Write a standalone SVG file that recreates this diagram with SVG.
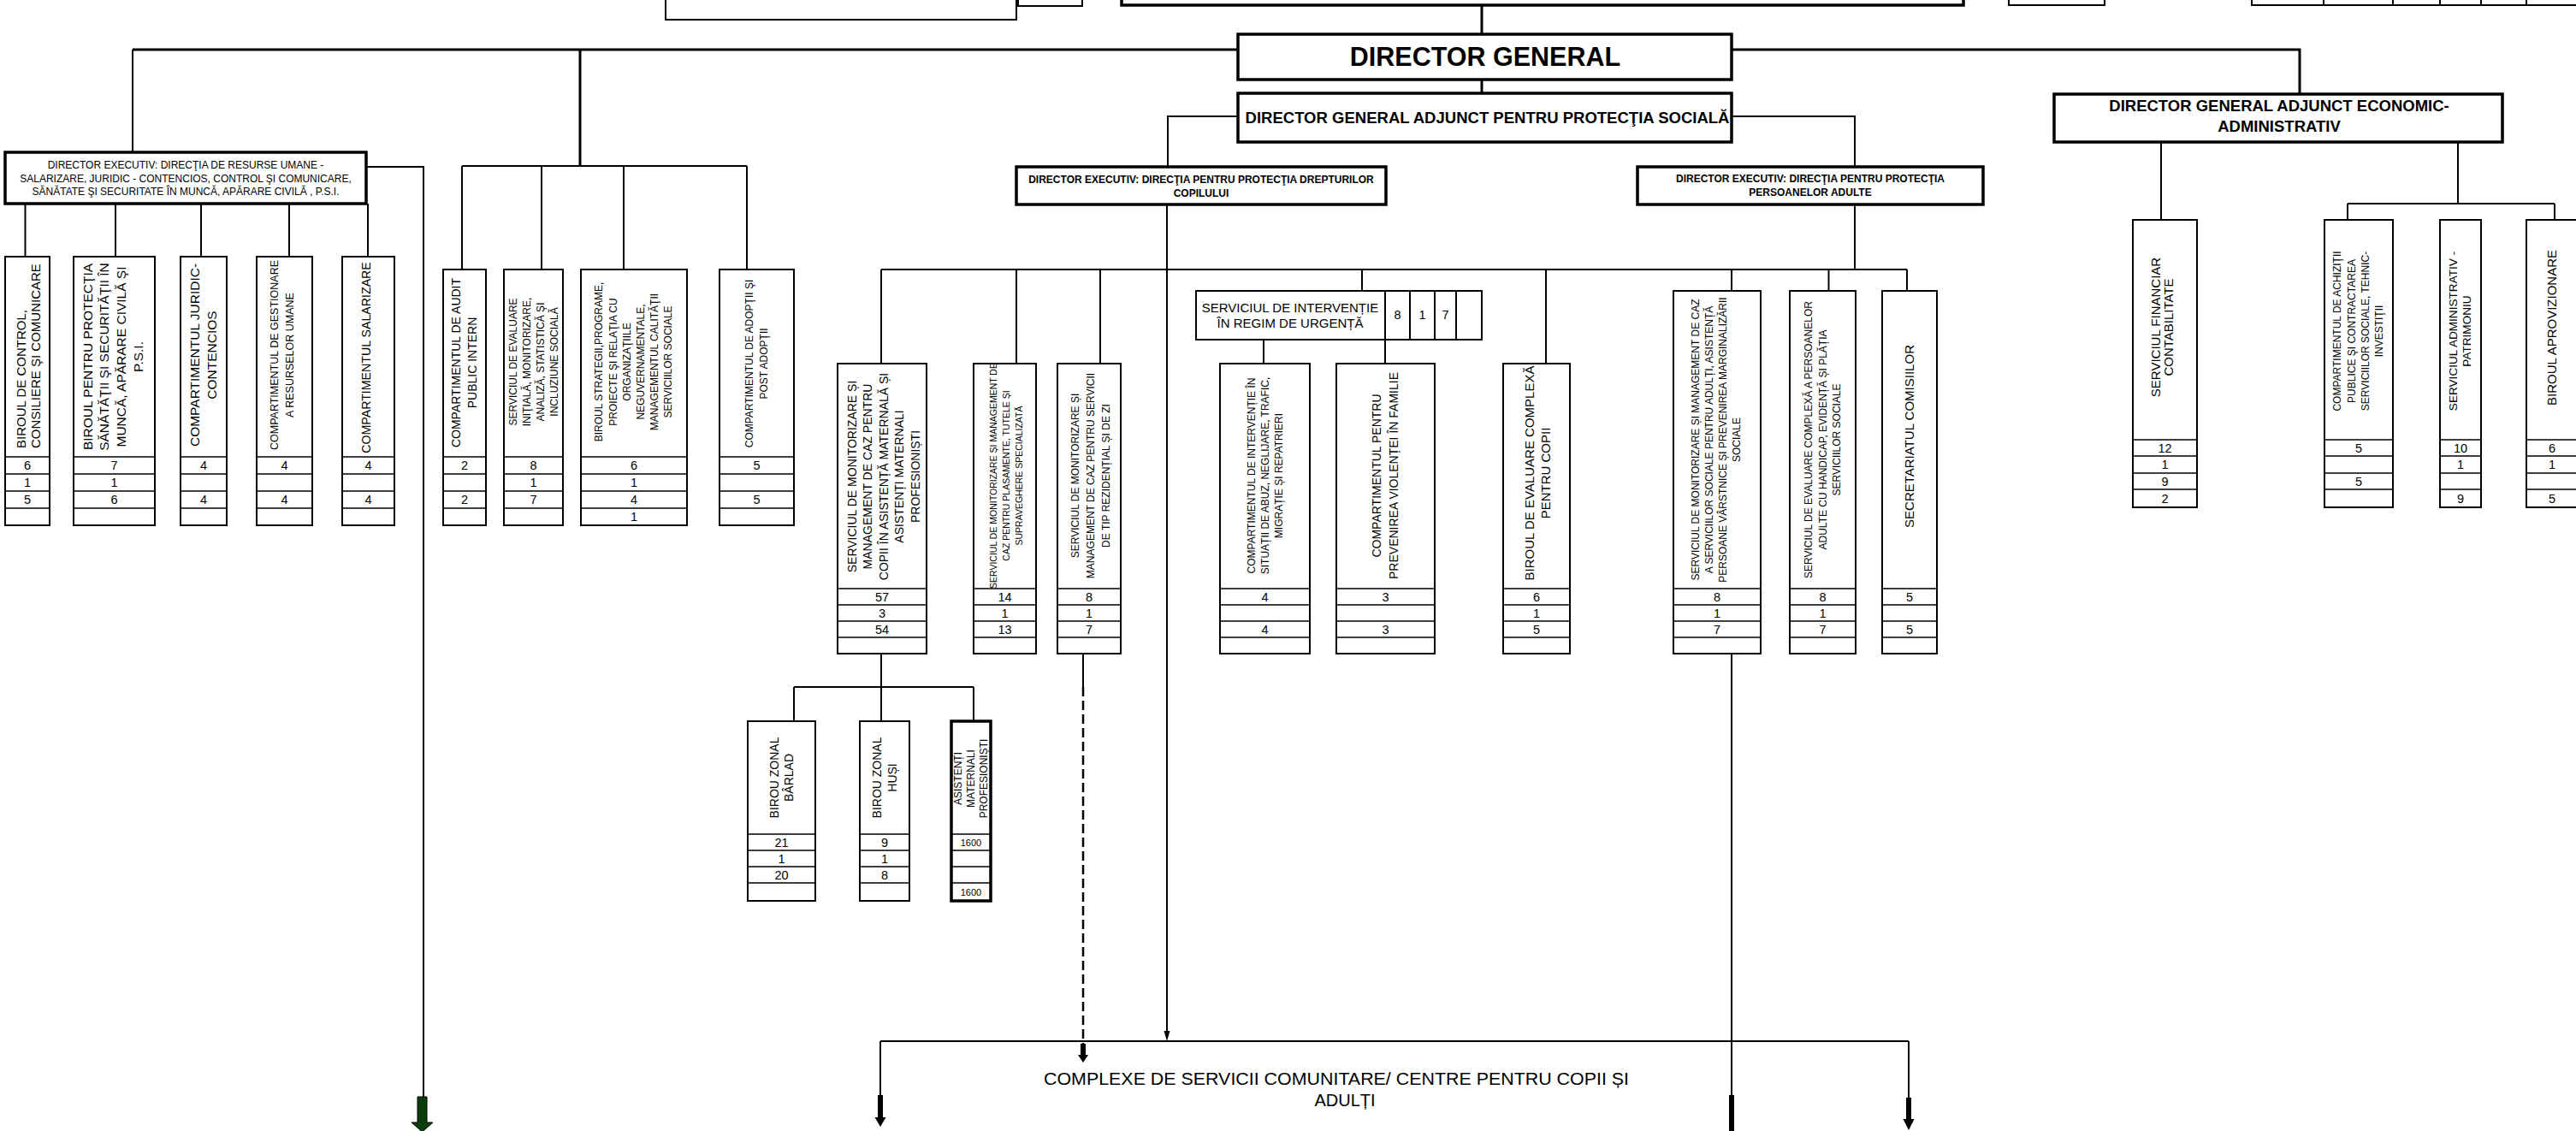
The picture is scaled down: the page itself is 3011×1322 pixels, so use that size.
<svg xmlns="http://www.w3.org/2000/svg" width="3011" height="1322" viewBox="0 0 3011 1322" xml:space="preserve">
<style>
.box{fill:#fff;stroke:#000;stroke-width:2}
.hbox{fill:#fff;stroke:#000;stroke-width:3.5}
.row{fill:none;stroke:#000;stroke-width:1.6}
.c{fill:none;stroke:#000;stroke-width:2}
.ct{fill:none;stroke:#000;stroke-width:3}
.dash{fill:none;stroke:#000;stroke-width:2.5;stroke-dasharray:11 5}
text{font-family:"Liberation Sans",Arial,sans-serif;fill:#000}
.n{font-size:14.5px;text-anchor:middle}
.m{text-anchor:middle}
.b{font-weight:bold}
</style>
<defs><clipPath id="clipB2"><rect x="87" y="301" width="93" height="233"/></clipPath><clipPath id="clipM2"><rect x="1139" y="426" width="71" height="262"/></clipPath><clipPath id="clipAMP"><rect x="1113" y="844" width="44" height="131"/></clipPath></defs>
<rect x="0" y="0" width="3011" height="1322" fill="#fff"/>
<g id="connectors">
<path class="ct" d="M1732 6V40M155 58H1447M2024 58H2688V110M678 58V194M1732 93V109"/>
<path class="c" d="M155 58V178"/>
<path class="c" d="M428 195H495V1282"/>
<path class="c" d="M29.5 238V300M135 238V300M235 238V300M338 238V300M430 238V300"/>
<path class="c" d="M540 194H873M540 194V315M633 194V315M729 194V315M873 194V315"/>
<path class="c" d="M1447 136H1365V195M2024 136H2168V195M2168 239V315"/>
<path class="c" d="M1364 239V1209"/>
<polygon points="1360.5,1205 1367.5,1205 1364,1217" fill="#000"/>
<path class="c" d="M1030 315H2229M1030 315V425M1188 315V425M1286 315V425M1592 315V340M1807 315V425M2024 315V340M2137.5 315V340M2229 315V340"/>
<path class="c" d="M1477 397V425M1619 397V425"/>
<path class="c" d="M1030 764V803M928 803H1138M928 803V843M1030 803V843M1138 803V843"/>
<path class="c" d="M1266 764V803"/>
<path class="dash" d="M1266 803V1220"/>
<polygon points="1263,1220 1269,1220 1269,1233 1272,1233 1266,1242 1260,1233 1263,1233" fill="#000"/>
<path class="c" d="M1029 1217H2231M1029 1217V1280M2231 1217V1283M2024 764V1280"/>
<polygon points="1026,1280 1032,1280 1032,1306 1035.5,1306 1029,1317 1022.5,1306 1026,1306" fill="#000"/>
<polygon points="2228,1283 2234,1283 2234,1308 2237.5,1308 2231,1321 2224.5,1308 2228,1308" fill="#000"/>
<rect x="2021" y="1280" width="6" height="42" fill="#000"/>
<polygon points="488,1282 499,1282 499,1312 506,1312 493.5,1323 481,1312 488,1312" fill="#0b3d0b" stroke="#000" stroke-width="1"/>
<path class="c" d="M2526 166V257M2873 166V238M2744 238H2986M2744 238V257M2986 238V257"/>
</g>
<g id="top-left"><rect class="box" x="778" y="-40" width="410" height="63" stroke-width="2.5"/></g>
<g id="top-small"><rect class="box" x="1190" y="-40" width="75" height="47"/></g>
<g id="top-main"><rect class="hbox" x="1311" y="-40" width="984" height="46"/></g>
<g id="top-r1"><rect class="box" x="2348" y="-40" width="112" height="46"/></g>
<g id="top-r2"><rect class="box" x="2632" y="-40" width="400" height="46"/><path class="c" d="M2716 -40V6M2797 -40V6M2852 -40V6M2900 -40V6M2953 -40V6"/></g>
<g id="director-general"><rect class="hbox" x="1447" y="40" width="577" height="53"/><text class="b m" x="1736" y="76.5" font-size="30.5">DIRECTOR GENERAL</text></g>
<g id="dga-ps"><rect class="hbox" x="1447" y="109" width="577" height="57"/><text class="b m" x="1738.5" y="143.6" font-size="18.4" textLength="566" lengthAdjust="spacingAndGlyphs">DIRECTOR GENERAL ADJUNCT PENTRU PROTECŢIA SOCIALĂ</text></g>
<g id="dga-ea"><rect class="hbox" x="2401" y="110" width="524" height="56"/><text class="b m" font-size="18.5"><tspan x="2664" y="129.7">DIRECTOR GENERAL ADJUNCT ECONOMIC-</tspan><tspan x="2664" y="153.7">ADMINISTRATIV</tspan></text></g>
<g id="de-hr"><rect class="hbox" x="6" y="178" width="422" height="60"/><text class="m" font-size="12"><tspan x="217" y="197.3">DIRECTOR  EXECUTIV: DIRECŢIA DE RESURSE UMANE -</tspan><tspan x="217" y="212.8">SALARIZARE, JURIDIC - CONTENCIOS, CONTROL ŞI COMUNICARE,</tspan><tspan x="217" y="228.3">SĂNĂTATE ŞI SECURITATE ÎN MUNCĂ, APĂRARE CIVILĂ , P.S.I.</tspan></text></g>
<g id="de-dpc"><rect class="hbox" x="1188" y="195" width="432" height="44"/><text class="b m" font-size="12"><tspan x="1404" y="214.3">DIRECTOR EXECUTIV:  DIRECŢIA PENTRU PROTECŢIA DREPTURILOR</tspan><tspan x="1404" y="230.3">COPILULUI</tspan></text></g>
<g id="de-ppa"><rect class="hbox" x="1914" y="195" width="404" height="44"/><text class="b m" font-size="12"><tspan x="2116" y="213.3">DIRECTOR EXECUTIV: DIRECŢIA PENTRU PROTECŢIA</tspan><tspan x="2116" y="229.3">PERSOANELOR ADULTE</tspan></text></g>
<g id="birou-control"><rect class="box" x="6" y="300" width="52" height="314"/><path class="row" d="M6 534H58M6 554H58M6 574H58M6 594H58"/><text font-size="15" transform="translate(0,524) rotate(-90)"><tspan x="0" y="30.4">BIROUL DE CONTROL,</tspan><tspan x="0" y="47.4">CONSILIERE ŞI COMUNICARE</tspan></text><text class="n" x="32" y="549.2">6</text><text class="n" x="32" y="569.2">1</text><text class="n" x="32" y="589.2">5</text></g>
<g id="birou-ssm"><rect class="box" x="86" y="300" width="95" height="314"/><path class="row" d="M86 534H181M86 554H181M86 574H181M86 594H181"/><g clip-path="url(#clipB2)"><text class="m" font-size="15.5" transform="translate(0,417) rotate(-90)"><tspan x="0" y="107.5">BIROUL PENTRU PROTECŢIA</tspan><tspan x="0" y="127.2">SĂNĂTĂŢII ŞI SECURITĂŢII ÎN</tspan><tspan x="0" y="146.9">MUNCĂ, APĂRARE CIVILĂ ŞI</tspan><tspan x="0" y="166.6">P.S.I.</tspan></text></g><text class="n" x="133.5" y="549.2">7</text><text class="n" x="133.5" y="569.2">1</text><text class="n" x="133.5" y="589.2">6</text></g>
<g id="comp-juridic"><rect class="box" x="211" y="300" width="54" height="314"/><path class="row" d="M211 534H265M211 554H265M211 574H265M211 594H265"/><text class="m" font-size="15.5" transform="translate(0,415) rotate(-90)"><tspan x="0" y="232.5">COMPARTIMENTUL JURIDIC-</tspan><tspan x="0" y="252.5">CONTENCIOS</tspan></text><text class="n" x="238" y="549.2">4</text><text class="n" x="238" y="589.2">4</text></g>
<g id="comp-resurse"><rect class="box" x="300" y="300" width="65" height="314"/><path class="row" d="M300 534H365M300 554H365M300 574H365M300 594H365"/><text class="m" font-size="12.5" transform="translate(0,415) rotate(-90)"><tspan x="0" y="324.5">COMPARTIMENTUL DE  GESTIONARE</tspan><tspan x="0" y="342.5">A RESURSELOR UMANE</tspan></text><text class="n" x="332.5" y="549.2">4</text><text class="n" x="332.5" y="589.2">4</text></g>
<g id="comp-salarizare"><rect class="box" x="400" y="300" width="61" height="314"/><path class="row" d="M400 534H461M400 554H461M400 574H461M400 594H461"/><text class="m" font-size="14.2" transform="translate(0,418) rotate(-90)"><tspan x="0" y="433">COMPARTIMENTUL SALARIZARE</tspan></text><text class="n" x="430.5" y="549.2">4</text><text class="n" x="430.5" y="589.2">4</text></g>
<g id="comp-audit"><rect class="box" x="518" y="315" width="50" height="299"/><path class="row" d="M518 534H568M518 554H568M518 574H568M518 594H568"/><text class="m" font-size="14" transform="translate(0,424) rotate(-90)"><tspan x="0" y="538">COMPARTIMENTUL  DE AUDIT</tspan><tspan x="0" y="557">PUBLIC INTERN</tspan></text><text class="n" x="543" y="549.2">2</text><text class="n" x="543" y="589.2">2</text></g>
<g id="serv-evaluare"><rect class="box" x="589" y="315" width="69" height="299"/><path class="row" d="M589 534H658M589 554H658M589 574H658M589 594H658"/><text class="m" font-size="12" transform="translate(0,423) rotate(-90)"><tspan x="0" y="604.3">SERVICIUL DE EVALUARE</tspan><tspan x="0" y="620.3">INIŢIALĂ, MONITORIZARE,</tspan><tspan x="0" y="636.3">ANALIZĂ, STATISTICĂ ŞI</tspan><tspan x="0" y="652.3">INCLUZIUNE SOCIALĂ</tspan></text><text class="n" x="623.5" y="549.2">8</text><text class="n" x="623.5" y="569.2">1</text><text class="n" x="623.5" y="589.2">7</text></g>
<g id="birou-strategii"><rect class="box" x="679" y="315" width="124" height="299"/><path class="row" d="M679 534H803M679 554H803M679 574H803M679 594H803"/><text class="m" font-size="12" transform="translate(0,423) rotate(-90)"><tspan x="0" y="704.3">BIROUL  STRATEGII,PROGRAME,</tspan><tspan x="0" y="720.5">PROIECTE ŞI RELAŢIA CU</tspan><tspan x="0" y="736.7">ORGANIZAŢIILE</tspan><tspan x="0" y="752.9">NEGUVERNAMENTALE,</tspan><tspan x="0" y="769.1">MANAGEMENTUL CALITĂŢII</tspan><tspan x="0" y="785.3">SERVICIILOR SOCIALE</tspan></text><text class="n" x="741" y="549.2">6</text><text class="n" x="741" y="569.2">1</text><text class="n" x="741" y="589.2">4</text><text class="n" x="741" y="609.2">1</text></g>
<g id="comp-adoptii"><rect class="box" x="841" y="315" width="87" height="299"/><path class="row" d="M841 534H928M841 554H928M841 574H928M841 594H928"/><text class="m" font-size="12" transform="translate(0,425) rotate(-90)"><tspan x="0" y="880.3">COMPARTIMENTUL  DE ADOPŢII ŞI</tspan><tspan x="0" y="897.3">POST ADOPŢII</tspan></text><text class="n" x="884.5" y="549.2">5</text><text class="n" x="884.5" y="589.2">5</text></g>
<g id="serv-amp"><rect class="box" x="979" y="425" width="104" height="339"/><path class="row" d="M979 688H1083M979 707H1083M979 726H1083M979 745H1083"/><text class="m" font-size="14" transform="translate(0,557) rotate(-90)"><tspan x="0" y="1000.7">SERVICIUL DE MONITORIZARE ȘI</tspan><tspan x="0" y="1019.2">MANAGEMENT DE CAZ PENTRU</tspan><tspan x="0" y="1037.7">COPII ÎN ASISTENȚĂ MATERNALĂ ȘI</tspan><tspan x="0" y="1056.2">ASISTENȚI MATERNALI</tspan><tspan x="0" y="1074.7">PROFESIONIȘTI</tspan></text><text class="n" x="1031" y="702.7">57</text><text class="n" x="1031" y="721.7">3</text><text class="n" x="1031" y="740.7">54</text></g>
<g id="serv-plasamente"><rect class="box" x="1138" y="425" width="73" height="339"/><path class="row" d="M1138 688H1211M1138 707H1211M1138 726H1211M1138 745H1211"/><g clip-path="url(#clipM2)"><text class="m" font-size="10.5" transform="translate(0,556) rotate(-90)"><tspan x="0" y="1164.8">SERVICIUL DE MONITORIZARE ȘI MANAGEMENT DE</tspan><tspan x="0" y="1180">CAZ PENTRU PLASAMENTE, TUTELE ȘI</tspan><tspan x="0" y="1195">SUPRAVEGHERE SPECIALIZATĂ</tspan></text></g><text class="n" x="1174.5" y="702.7">14</text><text class="n" x="1174.5" y="721.7">1</text><text class="n" x="1174.5" y="740.7">13</text></g>
<g id="serv-rezidential"><rect class="box" x="1236" y="425" width="74" height="339"/><path class="row" d="M1236 688H1310M1236 707H1310M1236 726H1310M1236 745H1310"/><text class="m" font-size="12" transform="translate(0,556) rotate(-90)"><tspan x="0" y="1261.3">SERVICIUL DE  MONITORIZARE ȘI</tspan><tspan x="0" y="1279">MANAGEMENT DE CAZ PENTRU SERVICII</tspan><tspan x="0" y="1296.8">DE TIP REZIDENȚIAL ȘI DE ZI</tspan></text><text class="n" x="1273" y="702.7">8</text><text class="n" x="1273" y="721.7">1</text><text class="n" x="1273" y="740.7">7</text></g>
<g id="serv-urgenta"><rect class="box" x="1398" y="340" width="334" height="57"/><path class="c" d="M1619 340V397M1648 340V397M1677 340V397M1702 340V397"/><text class="m" font-size="15"><tspan x="1508" y="365.4">SERVICIUL  DE INTERVENȚIE</tspan><tspan x="1508" y="382.7">ÎN REGIM DE URGENȚĂ</tspan></text><text class="n" x="1633.5" y="373">8</text><text class="n" x="1662.5" y="373">1</text><text class="n" x="1689.5" y="373">7</text></g>
<g id="comp-abuz"><rect class="box" x="1426" y="425" width="105" height="339"/><path class="row" d="M1426 688H1531M1426 707H1531M1426 726H1531M1426 745H1531"/><text class="m" font-size="12" transform="translate(0,556) rotate(-90)"><tspan x="0" y="1467.3">COMPARTIMENTUL  DE INTERVENȚIE ÎN</tspan><tspan x="0" y="1483.3">SITUAȚII DE ABUZ, NEGLIJARE, TRAFIC,</tspan><tspan x="0" y="1499.3">MIGRAȚIE ȘI REPATRIERI</tspan></text><text class="n" x="1478.5" y="702.7">4</text><text class="n" x="1478.5" y="740.7">4</text></g>
<g id="comp-violenta"><rect class="box" x="1562" y="425" width="115" height="339"/><path class="row" d="M1562 688H1677M1562 707H1677M1562 726H1677M1562 745H1677"/><text class="m" font-size="14" transform="translate(0,556) rotate(-90)"><tspan x="0" y="1614.3">COMPARTIMENTUL  PENTRU</tspan><tspan x="0" y="1634">PREVENIREA VIOLENȚEI ÎN FAMILIE</tspan></text><text class="n" x="1619.5" y="702.7">3</text><text class="n" x="1619.5" y="740.7">3</text></g>
<g id="birou-evaluare-copii"><rect class="box" x="1757" y="425" width="78" height="339"/><path class="row" d="M1757 688H1835M1757 707H1835M1757 726H1835M1757 745H1835"/><text class="m" font-size="15" transform="translate(0,553) rotate(-90)"><tspan x="0" y="1792.7">BIROUL DE EVALUARE COMPLEXĂ</tspan><tspan x="0" y="1812.4">PENTRU COPII</tspan></text><text class="n" x="1796" y="702.7">6</text><text class="n" x="1796" y="721.7">1</text><text class="n" x="1796" y="740.7">5</text></g>
<g id="serv-adulti"><rect class="box" x="1956" y="340" width="102" height="424"/><path class="row" d="M1956 688H2058M1956 707H2058M1956 726H2058M1956 745H2058"/><text class="m" font-size="12" transform="translate(0,514) rotate(-90)"><tspan x="0" y="1986.3">SERVICIUL  DE MONITORIZARE ȘI MANAGEMENT DE CAZ</tspan><tspan x="0" y="2002.3">A SERVICIILOR SOCIALE PENTRU ADULȚI, ASISTENȚĂ</tspan><tspan x="0" y="2018.3">PERSOANE VÂRSTNICE ȘI PREVENIREA MARGINALIZĂRII</tspan><tspan x="0" y="2034.3">SOCIALE</tspan></text><text class="n" x="2007" y="702.7">8</text><text class="n" x="2007" y="721.7">1</text><text class="n" x="2007" y="740.7">7</text></g>
<g id="serv-handicap"><rect class="box" x="2092" y="340" width="77" height="424"/><path class="row" d="M2092 688H2169M2092 707H2169M2092 726H2169M2092 745H2169"/><text class="m" font-size="12" transform="translate(0,514) rotate(-90)"><tspan x="0" y="2118">SERVICIUL  DE EVALUARE COMPLEXĂ A PERSOANELOR</tspan><tspan x="0" y="2134.7">ADULTE CU HANDICAP, EVIDENȚĂ ȘI PLĂȚIA</tspan><tspan x="0" y="2150.7">SERVICIILOR SOCIALE</tspan></text><text class="n" x="2130.5" y="702.7">8</text><text class="n" x="2130.5" y="721.7">1</text><text class="n" x="2130.5" y="740.7">7</text></g>
<g id="secretariat"><rect class="box" x="2200" y="340" width="64" height="424"/><path class="row" d="M2200 688H2264M2200 707H2264M2200 726H2264M2200 745H2264"/><text class="m" font-size="15" transform="translate(0,510) rotate(-90)"><tspan x="0" y="2236.8">SECRETARIATUL COMISIILOR</tspan></text><text class="n" x="2232" y="702.7">5</text><text class="n" x="2232" y="740.7">5</text></g>
<g id="serv-financiar"><rect class="box" x="2493" y="257" width="75" height="336"/><path class="row" d="M2493 514H2568M2493 533H2568M2493 553H2568M2493 572H2568"/><text class="m" font-size="15" transform="translate(0,382.5) rotate(-90)"><tspan x="0" y="2525.4">SERVICIUL FINANCIAR</tspan><tspan x="0" y="2540.4">CONTABILITATE</tspan></text><text class="n" x="2530.5" y="528.7">12</text><text class="n" x="2530.5" y="548.2">1</text><text class="n" x="2530.5" y="567.7">9</text><text class="n" x="2530.5" y="587.7">2</text></g>
<g id="comp-achizitii"><rect class="box" x="2717" y="257" width="80" height="336"/><path class="row" d="M2717 514H2797M2717 533H2797M2717 553H2797M2717 572H2797"/><text class="m" font-size="12" transform="translate(0,387) rotate(-90)"><tspan x="0" y="2735.6">COMPARTIMENTUL  DE ACHIZIŢII</tspan><tspan x="0" y="2752.5">PUBLICE ŞI CONTRACTAREA</tspan><tspan x="0" y="2768.6">SERVICIILOR SOCIALE, TEHNIC-</tspan><tspan x="0" y="2784.7">INVESTIŢII</tspan></text><text class="n" x="2757" y="528.7">5</text><text class="n" x="2757" y="567.7">5</text></g>
<g id="serv-administrativ"><rect class="box" x="2852" y="257" width="48" height="336"/><path class="row" d="M2852 514H2900M2852 533H2900M2852 553H2900M2852 572H2900"/><text class="m" font-size="13.6" transform="translate(0,387) rotate(-90)"><tspan x="0" y="2871.8">SERVICIUL ADMINISTRATIV -</tspan><tspan x="0" y="2888">PATRIMONIU</tspan></text><text class="n" x="2876" y="528.7">10</text><text class="n" x="2876" y="548.2">1</text><text class="n" x="2876" y="587.7">9</text></g>
<g id="birou-aprovizionare"><rect class="box" x="2953" y="257" width="65" height="336"/><path class="row" d="M2953 514H3018M2953 533H3018M2953 553H3018M2953 572H3018"/><text class="m" font-size="15" transform="translate(0,383) rotate(-90)"><tspan x="0" y="2987.8">BIROUL APROVIZIONARE</tspan></text><text class="n" x="2983" y="528.7">6</text><text class="n" x="2983" y="548.2">1</text><text class="n" x="2983" y="587.7">5</text></g>
<g id="birou-barlad"><rect class="box" x="874" y="843" width="79" height="210"/><path class="row" d="M874 975H953M874 994H953M874 1013H953M874 1032H953"/><text class="m" font-size="14" transform="translate(0,909) rotate(-90)"><tspan x="0" y="910">BIROU ZONAL</tspan><tspan x="0" y="926.7">BÂRLAD</tspan></text><text class="n" x="913.5" y="989.7">21</text><text class="n" x="913.5" y="1008.7">1</text><text class="n" x="913.5" y="1027.7">20</text></g>
<g id="birou-husi"><rect class="box" x="1005" y="843" width="58" height="210"/><path class="row" d="M1005 975H1063M1005 994H1063M1005 1013H1063M1005 1032H1063"/><text class="m" font-size="14" transform="translate(0,909) rotate(-90)"><tspan x="0" y="1030">BIROU ZONAL</tspan><tspan x="0" y="1048">HUȘI</tspan></text><text class="n" x="1034" y="989.7">9</text><text class="n" x="1034" y="1008.7">1</text><text class="n" x="1034" y="1027.7">8</text></g>
<g id="asistenti-maternali"><rect class="hbox" x="1112" y="843" width="46" height="210"/><path class="row" d="M1112 975H1158M1112 994H1158M1112 1013H1158M1112 1032H1158"/><g clip-path="url(#clipAMP)"><text class="m" font-size="12" transform="translate(0,910) rotate(-90)"><tspan x="0" y="1124.3">ASISTENȚI</tspan><tspan x="0" y="1139.3">MATERNALI</tspan><tspan x="0" y="1154.3">PROFESIONIȘTI</tspan></text></g><text class="m" x="1135" y="988.5" font-size="11" fill="#333">1600</text><text class="m" x="1135" y="1046.5" font-size="11" fill="#333">1600</text></g>
<g id="complexe"><text class="m" x="1562" y="1268" font-size="20" textLength="684" lengthAdjust="spacingAndGlyphs">COMPLEXE DE SERVICII COMUNITARE/ CENTRE PENTRU COPII ȘI</text><text class="m" x="1572" y="1292.5" font-size="20">ADULȚI</text></g>
</svg>
